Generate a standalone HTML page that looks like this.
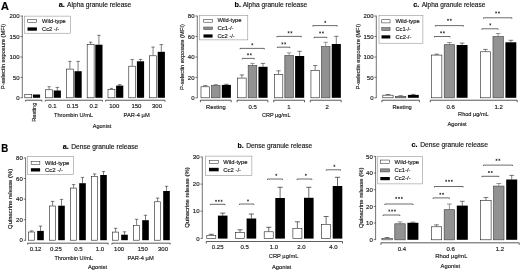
<!DOCTYPE html>
<html lang="en">
<head>
<meta charset="utf-8">
<title>Alpha and dense granule release</title>
<style>
html,body{margin:0;padding:0;background:#fff;}
body{width:520px;height:273px;overflow:hidden;font-family:"Liberation Sans",sans-serif;}
svg{display:block;font-family:"Liberation Sans",sans-serif;}
svg text{stroke:#1a1a1a;stroke-width:.16px;}
</style>
</head>
<body>
<svg width="520" height="273" viewBox="0 0 520 273">
<rect x="0" y="0" width="520" height="273" fill="#fff"/>
<g id="fig" filter="url(#soft)" fill="#1a1a1a">
<text x="1.00" y="9.80" font-size="10" font-weight="bold" textLength="7.90" lengthAdjust="spacingAndGlyphs" fill="#000">A</text>
<text x="1.20" y="151.80" font-size="10" font-weight="bold" textLength="7.00" lengthAdjust="spacingAndGlyphs" fill="#000">B</text>
<path d="M22.30 15.70L22.30 98.10" stroke="#1a1a1a" stroke-width="0.6" fill="none"/>
<path d="M20.50 16.00L22.30 16.00" stroke="#1a1a1a" stroke-width="0.6" fill="none"/>
<text x="19.50" y="18.15" font-size="6.0" text-anchor="end">200</text>
<path d="M20.50 36.50L22.30 36.50" stroke="#1a1a1a" stroke-width="0.6" fill="none"/>
<text x="19.50" y="38.65" font-size="6.0" text-anchor="end">150</text>
<path d="M20.50 57.00L22.30 57.00" stroke="#1a1a1a" stroke-width="0.6" fill="none"/>
<text x="19.50" y="59.15" font-size="6.0" text-anchor="end">100</text>
<path d="M20.50 77.40L22.30 77.40" stroke="#1a1a1a" stroke-width="0.6" fill="none"/>
<text x="19.50" y="79.55" font-size="6.0" text-anchor="end">50</text>
<path d="M20.50 97.80L22.30 97.80" stroke="#1a1a1a" stroke-width="0.6" fill="none"/>
<text x="19.50" y="99.95" font-size="6.0" text-anchor="end">0</text>
<text x="58.70" y="7.00" font-size="7.1" font-weight="bold" fill="#000" textLength="6.10" lengthAdjust="spacingAndGlyphs">a.</text>
<text x="67.10" y="7.00" font-size="6.4" textLength="64.20" lengthAdjust="spacingAndGlyphs">Alpha granule release</text>
<text x="4.60" y="56.50" font-size="6.1" text-anchor="middle" transform="rotate(-90 4.60 56.50)" textLength="65.50" lengthAdjust="spacingAndGlyphs">P-selectin exposure (MFI)</text>
<rect x="24.30" y="16.10" width="46.30" height="17.10" fill="#fff" stroke="#808080" stroke-width="0.5"/>
<rect x="27.75" y="19.55" width="8.90" height="3.05" fill="#fff" stroke="#1a1a1a" stroke-width="0.5"/>
<text x="42.00" y="22.85" font-size="5.9" textLength="23.80" lengthAdjust="spacingAndGlyphs">Wild-type</text>
<rect x="27.50" y="27.40" width="9.40" height="3.30" fill="#000"/>
<text x="42.00" y="30.95" font-size="5.9" textLength="17.30" lengthAdjust="spacingAndGlyphs">Cc2 -/-</text>
<rect x="24.79" y="94.59" width="6.92" height="3.21" fill="#fff" stroke="#1a1a1a" stroke-width="0.58"/>
<rect x="32.90" y="94.50" width="7.20" height="3.30" fill="#000"/>
<path d="M47.45 86.70H50.65M49.05 86.70V89.50" stroke="#1a1a1a" stroke-width="0.55" fill="none"/>
<path d="M55.55 87.40H59.05M57.30 87.40V90.50" stroke="#1a1a1a" stroke-width="0.55" fill="none"/>
<rect x="45.59" y="89.79" width="6.92" height="8.01" fill="#fff" stroke="#1a1a1a" stroke-width="0.58"/>
<rect x="53.70" y="90.50" width="7.20" height="7.30" fill="#000"/>
<path d="M68.25 61.40H71.45M69.85 61.40V68.80" stroke="#1a1a1a" stroke-width="0.55" fill="none"/>
<path d="M76.35 61.40H79.85M78.10 61.40V71.20" stroke="#1a1a1a" stroke-width="0.55" fill="none"/>
<rect x="66.39" y="69.09" width="6.92" height="28.71" fill="#fff" stroke="#1a1a1a" stroke-width="0.58"/>
<rect x="74.50" y="71.20" width="7.20" height="26.60" fill="#000"/>
<path d="M89.05 42.20H92.25M90.65 42.20V44.10" stroke="#1a1a1a" stroke-width="0.55" fill="none"/>
<path d="M97.15 35.30H100.65M98.90 35.30V44.70" stroke="#1a1a1a" stroke-width="0.55" fill="none"/>
<rect x="87.19" y="44.39" width="6.92" height="53.41" fill="#fff" stroke="#1a1a1a" stroke-width="0.58"/>
<rect x="95.30" y="44.70" width="7.20" height="53.10" fill="#000"/>
<path d="M109.85 88.40H113.05M111.45 88.40V89.10" stroke="#1a1a1a" stroke-width="0.55" fill="none"/>
<path d="M117.95 84.60H121.45M119.70 84.60V85.60" stroke="#1a1a1a" stroke-width="0.55" fill="none"/>
<rect x="107.99" y="89.39" width="6.92" height="8.41" fill="#fff" stroke="#1a1a1a" stroke-width="0.58"/>
<rect x="116.10" y="85.60" width="7.20" height="12.20" fill="#000"/>
<path d="M130.65 59.60H133.85M132.25 59.60V65.90" stroke="#1a1a1a" stroke-width="0.55" fill="none"/>
<path d="M138.75 59.40H142.25M140.50 59.40V61.30" stroke="#1a1a1a" stroke-width="0.55" fill="none"/>
<rect x="128.79" y="66.19" width="6.92" height="31.61" fill="#fff" stroke="#1a1a1a" stroke-width="0.58"/>
<rect x="136.90" y="61.30" width="7.20" height="36.50" fill="#000"/>
<path d="M151.45 47.10H154.65M153.05 47.10V55.50" stroke="#1a1a1a" stroke-width="0.55" fill="none"/>
<path d="M159.55 44.60H163.05M161.30 44.60V51.80" stroke="#1a1a1a" stroke-width="0.55" fill="none"/>
<rect x="149.59" y="55.79" width="6.92" height="42.01" fill="#fff" stroke="#1a1a1a" stroke-width="0.58"/>
<rect x="157.70" y="51.80" width="7.20" height="46.00" fill="#000"/>
<path d="M25.60 101.55V100.25H41.90V101.55" stroke="#1a1a1a" stroke-width="0.7" fill="none"/>
<path d="M45.30 101.55V100.25H102.50V101.55" stroke="#1a1a1a" stroke-width="0.7" fill="none"/>
<path d="M105.60 101.55V100.25H165.00V101.55" stroke="#1a1a1a" stroke-width="0.7" fill="none"/>
<text x="52.40" y="107.80" font-size="6.0" text-anchor="middle">0.1</text>
<text x="72.60" y="107.80" font-size="6.0" text-anchor="middle">0.15</text>
<text x="93.75" y="107.80" font-size="6.0" text-anchor="middle">0.2</text>
<text x="114.25" y="107.80" font-size="6.0" text-anchor="middle">100</text>
<text x="136.40" y="107.80" font-size="6.0" text-anchor="middle">150</text>
<text x="157.00" y="107.80" font-size="6.0" text-anchor="middle">300</text>
<text x="36.00" y="102.60" font-size="6.2" text-anchor="end" transform="rotate(-90 36.00 102.60)" textLength="19.20" lengthAdjust="spacingAndGlyphs">Resting</text>
<text x="54.00" y="116.50" font-size="6.0" textLength="39.00" lengthAdjust="spacingAndGlyphs">Thrombin U/mL</text>
<text x="123.50" y="116.50" font-size="6.0" textLength="26.20" lengthAdjust="spacingAndGlyphs">PAR-4 µM</text>
<text x="92.80" y="127.80" font-size="6.0" textLength="18.40" lengthAdjust="spacingAndGlyphs">Agonist</text>
<path d="M197.30 15.70L197.30 98.10" stroke="#1a1a1a" stroke-width="0.6" fill="none"/>
<path d="M195.50 16.00L197.30 16.00" stroke="#1a1a1a" stroke-width="0.6" fill="none"/>
<text x="194.50" y="18.15" font-size="6.0" text-anchor="end">80</text>
<path d="M195.50 36.50L197.30 36.50" stroke="#1a1a1a" stroke-width="0.6" fill="none"/>
<text x="194.50" y="38.65" font-size="6.0" text-anchor="end">60</text>
<path d="M195.50 57.00L197.30 57.00" stroke="#1a1a1a" stroke-width="0.6" fill="none"/>
<text x="194.50" y="59.15" font-size="6.0" text-anchor="end">40</text>
<path d="M195.50 77.40L197.30 77.40" stroke="#1a1a1a" stroke-width="0.6" fill="none"/>
<text x="194.50" y="79.55" font-size="6.0" text-anchor="end">20</text>
<path d="M195.50 97.80L197.30 97.80" stroke="#1a1a1a" stroke-width="0.6" fill="none"/>
<text x="194.50" y="99.95" font-size="6.0" text-anchor="end">0</text>
<text x="234.50" y="7.00" font-size="7.1" font-weight="bold" fill="#000" textLength="6.50" lengthAdjust="spacingAndGlyphs">b.</text>
<text x="242.70" y="7.00" font-size="6.4" textLength="64.60" lengthAdjust="spacingAndGlyphs">Alpha granule release</text>
<text x="183.70" y="57.10" font-size="6.1" text-anchor="middle" transform="rotate(-90 183.70 57.10)" textLength="65.80" lengthAdjust="spacingAndGlyphs">P-selectin exposure (MFI)</text>
<rect x="199.40" y="15.60" width="48.40" height="24.30" fill="#fff" stroke="#808080" stroke-width="0.5"/>
<rect x="203.75" y="19.25" width="8.60" height="2.95" fill="#fff" stroke="#1a1a1a" stroke-width="0.5"/>
<text x="217.40" y="22.45" font-size="5.9" textLength="24.20" lengthAdjust="spacingAndGlyphs">Wild-type</text>
<rect x="203.75" y="27.05" width="8.60" height="2.45" fill="#929292" stroke="#484848" stroke-width="0.60"/>
<text x="217.40" y="29.75" font-size="5.9" textLength="16.20" lengthAdjust="spacingAndGlyphs">Cc1-/-</text>
<rect x="203.50" y="34.40" width="9.10" height="3.20" fill="#000"/>
<text x="217.40" y="37.85" font-size="5.9" textLength="17.30" lengthAdjust="spacingAndGlyphs">Cc2 -/-</text>
<path d="M203.10 85.60H207.40M205.25 85.60V86.50" stroke="#1a1a1a" stroke-width="0.55" fill="none"/>
<rect x="200.99" y="86.79" width="8.52" height="11.01" fill="#fff" stroke="#1a1a1a" stroke-width="0.58"/>
<path d="M213.65 84.60H217.95M215.80 84.60V85.30" stroke="#444" stroke-width="0.55" fill="none"/>
<rect x="211.54" y="85.59" width="8.52" height="12.21" fill="#929292" stroke="#484848" stroke-width="0.68"/>
<path d="M224.20 84.30H228.50M226.35 84.30V84.90" stroke="#1a1a1a" stroke-width="0.55" fill="none"/>
<rect x="221.80" y="84.90" width="9.10" height="12.90" fill="#000"/>
<path d="M200.40 102.25V100.25H231.20V102.25" stroke="#1a1a1a" stroke-width="0.7" fill="none"/>
<path d="M239.75 74.90H244.05M241.90 74.90V77.80" stroke="#1a1a1a" stroke-width="0.55" fill="none"/>
<rect x="237.64" y="78.09" width="8.52" height="19.71" fill="#fff" stroke="#1a1a1a" stroke-width="0.58"/>
<path d="M250.30 63.40H254.60M252.45 63.40V65.30" stroke="#444" stroke-width="0.55" fill="none"/>
<rect x="248.19" y="65.59" width="8.52" height="32.21" fill="#929292" stroke="#484848" stroke-width="0.68"/>
<path d="M260.85 63.40H265.15M263.00 63.40V66.80" stroke="#1a1a1a" stroke-width="0.55" fill="none"/>
<rect x="258.45" y="66.80" width="9.10" height="31.00" fill="#000"/>
<path d="M237.05 102.25V100.25H267.85V102.25" stroke="#1a1a1a" stroke-width="0.7" fill="none"/>
<path d="M276.40 70.80H280.70M278.55 70.80V74.30" stroke="#1a1a1a" stroke-width="0.55" fill="none"/>
<rect x="274.29" y="74.59" width="8.52" height="23.21" fill="#fff" stroke="#1a1a1a" stroke-width="0.58"/>
<path d="M286.95 52.90H291.25M289.10 52.90V55.30" stroke="#444" stroke-width="0.55" fill="none"/>
<rect x="284.84" y="55.59" width="8.52" height="42.21" fill="#929292" stroke="#484848" stroke-width="0.68"/>
<path d="M297.50 51.30H301.80M299.65 51.30V56.00" stroke="#1a1a1a" stroke-width="0.55" fill="none"/>
<rect x="295.10" y="56.00" width="9.10" height="41.80" fill="#000"/>
<path d="M273.70 102.25V100.25H304.50V102.25" stroke="#1a1a1a" stroke-width="0.7" fill="none"/>
<path d="M313.05 65.50H317.35M315.20 65.50V70.30" stroke="#1a1a1a" stroke-width="0.55" fill="none"/>
<rect x="310.94" y="70.59" width="8.52" height="27.21" fill="#fff" stroke="#1a1a1a" stroke-width="0.58"/>
<path d="M323.60 42.30H327.90M325.75 42.30V46.30" stroke="#444" stroke-width="0.55" fill="none"/>
<rect x="321.49" y="46.59" width="8.52" height="51.21" fill="#929292" stroke="#484848" stroke-width="0.68"/>
<path d="M334.15 36.30H338.45M336.30 36.30V44.00" stroke="#1a1a1a" stroke-width="0.55" fill="none"/>
<rect x="331.75" y="44.00" width="9.10" height="53.80" fill="#000"/>
<path d="M310.35 102.25V100.25H341.15V102.25" stroke="#1a1a1a" stroke-width="0.7" fill="none"/>
<path d="M240.00 49.30V48.40H264.40V49.30" stroke="#1a1a1a" stroke-width="0.65" fill="none"/>
<path d="M252.30 43.30V45.30M251.43 43.80L253.17 44.80M251.43 44.80L253.17 43.80" stroke="#1a1a1a" stroke-width="0.6" fill="none"/>
<path d="M242.30 59.30V58.40H254.40V59.30" stroke="#1a1a1a" stroke-width="0.65" fill="none"/>
<path d="M248.00 53.30V55.30M247.13 53.80L248.87 54.80M247.13 54.80L248.87 53.80" stroke="#1a1a1a" stroke-width="0.6" fill="none"/>
<path d="M250.80 53.30V55.30M249.93 53.80L251.67 54.80M249.93 54.80L251.67 53.80" stroke="#1a1a1a" stroke-width="0.6" fill="none"/>
<path d="M276.90 37.30V36.40H301.30V37.30" stroke="#1a1a1a" stroke-width="0.65" fill="none"/>
<path d="M288.60 31.30V33.30M287.73 31.80L289.47 32.80M287.73 32.80L289.47 31.80" stroke="#1a1a1a" stroke-width="0.6" fill="none"/>
<path d="M291.40 31.30V33.30M290.53 31.80L292.27 32.80M290.53 32.80L292.27 31.80" stroke="#1a1a1a" stroke-width="0.6" fill="none"/>
<path d="M277.30 48.10V47.20H289.80V48.10" stroke="#1a1a1a" stroke-width="0.65" fill="none"/>
<path d="M282.40 42.40V44.40M281.53 42.90L283.27 43.90M281.53 43.90L283.27 42.90" stroke="#1a1a1a" stroke-width="0.6" fill="none"/>
<path d="M285.20 42.40V44.40M284.33 42.90L286.07 43.90M284.33 43.90L286.07 42.90" stroke="#1a1a1a" stroke-width="0.6" fill="none"/>
<path d="M312.80 26.50V25.60H337.30V26.50" stroke="#1a1a1a" stroke-width="0.65" fill="none"/>
<path d="M325.30 20.90V22.90M324.43 21.40L326.17 22.40M324.43 22.40L326.17 21.40" stroke="#1a1a1a" stroke-width="0.6" fill="none"/>
<path d="M314.00 38.20V37.30H326.90V38.20" stroke="#1a1a1a" stroke-width="0.65" fill="none"/>
<path d="M320.10 31.50V33.50M319.23 32.00L320.97 33.00M319.23 33.00L320.97 32.00" stroke="#1a1a1a" stroke-width="0.6" fill="none"/>
<path d="M322.90 31.50V33.50M322.03 32.00L323.77 33.00M322.03 33.00L323.77 32.00" stroke="#1a1a1a" stroke-width="0.6" fill="none"/>
<text x="215.90" y="109.00" font-size="6.2" text-anchor="middle" textLength="19.60" lengthAdjust="spacingAndGlyphs">Resting</text>
<text x="252.70" y="108.80" font-size="6.0" text-anchor="middle">0.5</text>
<text x="289.00" y="108.80" font-size="6.0" text-anchor="middle">1</text>
<text x="327.20" y="108.80" font-size="6.0" text-anchor="middle">2</text>
<text x="261.90" y="116.50" font-size="6.0" textLength="28.60" lengthAdjust="spacingAndGlyphs">CRP µg/mL</text>
<path d="M376.30 15.70L376.30 98.10" stroke="#1a1a1a" stroke-width="0.6" fill="none"/>
<path d="M374.50 16.00L376.30 16.00" stroke="#1a1a1a" stroke-width="0.6" fill="none"/>
<text x="373.50" y="18.15" font-size="6.0" text-anchor="end">200</text>
<path d="M374.50 36.50L376.30 36.50" stroke="#1a1a1a" stroke-width="0.6" fill="none"/>
<text x="373.50" y="38.65" font-size="6.0" text-anchor="end">150</text>
<path d="M374.50 57.00L376.30 57.00" stroke="#1a1a1a" stroke-width="0.6" fill="none"/>
<text x="373.50" y="59.15" font-size="6.0" text-anchor="end">100</text>
<path d="M374.50 77.40L376.30 77.40" stroke="#1a1a1a" stroke-width="0.6" fill="none"/>
<text x="373.50" y="79.55" font-size="6.0" text-anchor="end">50</text>
<path d="M374.50 97.80L376.30 97.80" stroke="#1a1a1a" stroke-width="0.6" fill="none"/>
<text x="373.50" y="99.95" font-size="6.0" text-anchor="end">0</text>
<text x="413.30" y="7.00" font-size="7.1" font-weight="bold" fill="#000" textLength="6.00" lengthAdjust="spacingAndGlyphs">c.</text>
<text x="421.70" y="7.00" font-size="6.4" textLength="63.70" lengthAdjust="spacingAndGlyphs">Alpha granule release</text>
<text x="359.70" y="56.70" font-size="6.1" text-anchor="middle" transform="rotate(-90 359.70 56.70)" textLength="65.60" lengthAdjust="spacingAndGlyphs">P-selectin exposure (MFI)</text>
<rect x="379.00" y="15.60" width="43.90" height="27.60" fill="#fff" stroke="#808080" stroke-width="0.5"/>
<rect x="381.75" y="19.75" width="8.30" height="3.15" fill="#fff" stroke="#1a1a1a" stroke-width="0.5"/>
<text x="395.50" y="23.15" font-size="5.9" textLength="24.20" lengthAdjust="spacingAndGlyphs">Wild-type</text>
<rect x="381.75" y="27.65" width="8.30" height="2.75" fill="#929292" stroke="#484848" stroke-width="0.60"/>
<text x="395.50" y="30.65" font-size="5.9" textLength="15.50" lengthAdjust="spacingAndGlyphs">Cc1-/-</text>
<rect x="381.50" y="35.30" width="8.80" height="3.20" fill="#000"/>
<text x="395.50" y="38.75" font-size="5.9" textLength="15.90" lengthAdjust="spacingAndGlyphs">Cc2-/-</text>
<path d="M385.65 94.50H390.25M387.95 94.50V94.90" stroke="#1a1a1a" stroke-width="0.55" fill="none"/>
<rect x="382.79" y="95.19" width="10.32" height="2.61" fill="#fff" stroke="#1a1a1a" stroke-width="0.58"/>
<path d="M398.35 95.50H402.95M400.65 95.50V96.10" stroke="#444" stroke-width="0.55" fill="none"/>
<rect x="395.49" y="96.39" width="10.32" height="1.41" fill="#929292" stroke="#484848" stroke-width="0.68"/>
<path d="M411.05 94.40H415.65M413.35 94.40V94.90" stroke="#1a1a1a" stroke-width="0.55" fill="none"/>
<rect x="407.90" y="94.90" width="10.90" height="2.90" fill="#000"/>
<path d="M434.40 54.20H439.00M436.70 54.20V54.80" stroke="#1a1a1a" stroke-width="0.55" fill="none"/>
<rect x="431.54" y="55.09" width="10.32" height="42.71" fill="#fff" stroke="#1a1a1a" stroke-width="0.58"/>
<path d="M447.10 42.50H451.70M449.40 42.50V44.40" stroke="#444" stroke-width="0.55" fill="none"/>
<rect x="444.24" y="44.69" width="10.32" height="53.11" fill="#929292" stroke="#484848" stroke-width="0.68"/>
<path d="M459.80 43.10H464.40M462.10 43.10V45.00" stroke="#1a1a1a" stroke-width="0.55" fill="none"/>
<rect x="456.65" y="45.00" width="10.90" height="52.80" fill="#000"/>
<path d="M483.15 49.40H487.75M485.45 49.40V51.50" stroke="#1a1a1a" stroke-width="0.55" fill="none"/>
<rect x="480.29" y="51.79" width="10.32" height="46.01" fill="#fff" stroke="#1a1a1a" stroke-width="0.58"/>
<path d="M495.85 33.50H500.45M498.15 33.50V36.30" stroke="#444" stroke-width="0.55" fill="none"/>
<rect x="492.99" y="36.59" width="10.32" height="61.21" fill="#929292" stroke="#484848" stroke-width="0.68"/>
<path d="M508.55 40.30H513.15M510.85 40.30V42.30" stroke="#1a1a1a" stroke-width="0.55" fill="none"/>
<rect x="505.40" y="42.30" width="10.90" height="55.50" fill="#000"/>
<path d="M381.90 102.25V100.25H419.40V102.25" stroke="#1a1a1a" stroke-width="0.7" fill="none"/>
<path d="M430.30 102.25V100.25H517.20V102.25" stroke="#1a1a1a" stroke-width="0.7" fill="none"/>
<path d="M435.30 26.50V25.60H463.50V26.50" stroke="#1a1a1a" stroke-width="0.65" fill="none"/>
<path d="M448.00 18.80V20.80M447.13 19.30L448.87 20.30M447.13 20.30L448.87 19.30" stroke="#1a1a1a" stroke-width="0.6" fill="none"/>
<path d="M450.80 18.80V20.80M449.93 19.30L451.67 20.30M449.93 20.30L451.67 19.30" stroke="#1a1a1a" stroke-width="0.6" fill="none"/>
<path d="M434.40 37.40V36.50H450.00V37.40" stroke="#1a1a1a" stroke-width="0.65" fill="none"/>
<path d="M441.10 31.30V33.30M440.23 31.80L441.97 32.80M440.23 32.80L441.97 31.80" stroke="#1a1a1a" stroke-width="0.6" fill="none"/>
<path d="M443.90 31.30V33.30M443.03 31.80L444.77 32.80M443.03 32.80L444.77 31.80" stroke="#1a1a1a" stroke-width="0.6" fill="none"/>
<path d="M483.50 18.70V17.80H511.90V18.70" stroke="#1a1a1a" stroke-width="0.65" fill="none"/>
<path d="M496.10 11.50V13.50M495.23 12.00L496.97 13.00M495.23 13.00L496.97 12.00" stroke="#1a1a1a" stroke-width="0.6" fill="none"/>
<path d="M498.90 11.50V13.50M498.03 12.00L499.77 13.00M498.03 13.00L499.77 12.00" stroke="#1a1a1a" stroke-width="0.6" fill="none"/>
<path d="M481.90 29.70V28.80H498.10V29.70" stroke="#1a1a1a" stroke-width="0.65" fill="none"/>
<path d="M490.30 23.40V25.40M489.43 23.90L491.17 24.90M489.43 24.90L491.17 23.90" stroke="#1a1a1a" stroke-width="0.6" fill="none"/>
<text x="402.10" y="108.80" font-size="6.2" text-anchor="middle" textLength="19.40" lengthAdjust="spacingAndGlyphs">Resting</text>
<text x="450.60" y="108.80" font-size="6.0" text-anchor="middle">0.6</text>
<text x="498.70" y="108.80" font-size="6.0" text-anchor="middle">1.2</text>
<text x="458.10" y="115.70" font-size="6.0" textLength="30.60" lengthAdjust="spacingAndGlyphs">Rhod µg/mL</text>
<text x="447.50" y="125.70" font-size="6.0" textLength="19.20" lengthAdjust="spacingAndGlyphs">Agonist</text>
<path d="M25.60 157.60L25.60 240.60" stroke="#1a1a1a" stroke-width="0.6" fill="none"/>
<path d="M23.80 157.90L25.60 157.90" stroke="#1a1a1a" stroke-width="0.6" fill="none"/>
<text x="22.80" y="160.05" font-size="6.0" text-anchor="end">80</text>
<path d="M23.80 178.50L25.60 178.50" stroke="#1a1a1a" stroke-width="0.6" fill="none"/>
<text x="22.80" y="180.65" font-size="6.0" text-anchor="end">60</text>
<path d="M23.80 199.10L25.60 199.10" stroke="#1a1a1a" stroke-width="0.6" fill="none"/>
<text x="22.80" y="201.25" font-size="6.0" text-anchor="end">40</text>
<path d="M23.80 219.70L25.60 219.70" stroke="#1a1a1a" stroke-width="0.6" fill="none"/>
<text x="22.80" y="221.85" font-size="6.0" text-anchor="end">20</text>
<path d="M23.80 240.30L25.60 240.30" stroke="#1a1a1a" stroke-width="0.6" fill="none"/>
<text x="22.80" y="242.45" font-size="6.0" text-anchor="end">0</text>
<text x="62.70" y="148.80" font-size="7.1" font-weight="bold" fill="#000" textLength="6.00" lengthAdjust="spacingAndGlyphs">a.</text>
<text x="71.20" y="148.80" font-size="6.4" textLength="67.10" lengthAdjust="spacingAndGlyphs">Dense granule release</text>
<text x="11.80" y="198.90" font-size="6.1" text-anchor="middle" transform="rotate(-90 11.80 198.90)" textLength="60.00" lengthAdjust="spacingAndGlyphs">Quinacrine release (%)</text>
<rect x="27.30" y="156.30" width="46.20" height="18.10" fill="#fff" stroke="#808080" stroke-width="0.5"/>
<rect x="31.15" y="161.25" width="8.70" height="3.15" fill="#fff" stroke="#1a1a1a" stroke-width="0.5"/>
<text x="44.90" y="164.65" font-size="5.9" textLength="24.40" lengthAdjust="spacingAndGlyphs">Wild-type</text>
<rect x="30.90" y="168.20" width="9.20" height="3.30" fill="#000"/>
<text x="44.90" y="171.75" font-size="5.9" textLength="18.00" lengthAdjust="spacingAndGlyphs">Cc2 -/-</text>
<path d="M29.90 230.90H33.30M31.60 230.90V231.70" stroke="#1a1a1a" stroke-width="0.55" fill="none"/>
<path d="M38.80 226.10H42.20M40.50 226.10V230.90" stroke="#1a1a1a" stroke-width="0.55" fill="none"/>
<rect x="28.59" y="231.99" width="6.02" height="8.21" fill="#fff" stroke="#1a1a1a" stroke-width="0.58"/>
<rect x="37.20" y="230.90" width="6.60" height="9.30" fill="#000"/>
<path d="M50.90 201.40H54.30M52.60 201.40V205.70" stroke="#1a1a1a" stroke-width="0.55" fill="none"/>
<path d="M59.80 199.40H63.20M61.50 199.40V205.70" stroke="#1a1a1a" stroke-width="0.55" fill="none"/>
<rect x="49.59" y="205.99" width="6.02" height="34.21" fill="#fff" stroke="#1a1a1a" stroke-width="0.58"/>
<rect x="58.20" y="205.70" width="6.60" height="34.50" fill="#000"/>
<path d="M71.90 184.60H75.30M73.60 184.60V187.80" stroke="#1a1a1a" stroke-width="0.55" fill="none"/>
<path d="M80.80 177.40H84.20M82.50 177.40V183.20" stroke="#1a1a1a" stroke-width="0.55" fill="none"/>
<rect x="70.59" y="188.09" width="6.02" height="52.11" fill="#fff" stroke="#1a1a1a" stroke-width="0.58"/>
<rect x="79.20" y="183.20" width="6.60" height="57.00" fill="#000"/>
<path d="M92.90 173.90H96.30M94.60 173.90V176.20" stroke="#1a1a1a" stroke-width="0.55" fill="none"/>
<path d="M101.80 171.60H105.20M103.50 171.60V175.00" stroke="#1a1a1a" stroke-width="0.55" fill="none"/>
<rect x="91.59" y="176.49" width="6.02" height="63.71" fill="#fff" stroke="#1a1a1a" stroke-width="0.58"/>
<rect x="100.20" y="175.00" width="6.60" height="65.20" fill="#000"/>
<path d="M113.90 228.30H117.30M115.60 228.30V231.80" stroke="#1a1a1a" stroke-width="0.55" fill="none"/>
<path d="M122.80 231.80H126.20M124.50 231.80V234.70" stroke="#1a1a1a" stroke-width="0.55" fill="none"/>
<rect x="112.59" y="232.09" width="6.02" height="8.11" fill="#fff" stroke="#1a1a1a" stroke-width="0.58"/>
<rect x="121.20" y="234.70" width="6.60" height="5.50" fill="#000"/>
<path d="M134.90 219.30H138.30M136.60 219.30V225.10" stroke="#1a1a1a" stroke-width="0.55" fill="none"/>
<path d="M143.80 215.30H147.20M145.50 215.30V220.20" stroke="#1a1a1a" stroke-width="0.55" fill="none"/>
<rect x="133.59" y="225.39" width="6.02" height="14.81" fill="#fff" stroke="#1a1a1a" stroke-width="0.58"/>
<rect x="142.20" y="220.20" width="6.60" height="20.00" fill="#000"/>
<path d="M155.90 198.10H159.30M157.60 198.10V201.50" stroke="#1a1a1a" stroke-width="0.55" fill="none"/>
<path d="M164.80 186.30H168.20M166.50 186.30V191.00" stroke="#1a1a1a" stroke-width="0.55" fill="none"/>
<rect x="154.59" y="201.79" width="6.02" height="38.41" fill="#fff" stroke="#1a1a1a" stroke-width="0.58"/>
<rect x="163.20" y="191.00" width="6.60" height="49.20" fill="#000"/>
<path d="M27.60 244.50V243.20H108.20V244.50" stroke="#1a1a1a" stroke-width="0.7" fill="none"/>
<path d="M111.90 244.50V243.20H170.20V244.50" stroke="#1a1a1a" stroke-width="0.7" fill="none"/>
<text x="35.50" y="251.00" font-size="6.0" text-anchor="middle">0.12</text>
<text x="55.90" y="251.00" font-size="6.0" text-anchor="middle">0.25</text>
<text x="78.50" y="251.00" font-size="6.0" text-anchor="middle">0.5</text>
<text x="100.00" y="251.00" font-size="6.0" text-anchor="middle">1.0</text>
<text x="119.10" y="251.00" font-size="6.0" text-anchor="middle">100</text>
<text x="142.80" y="251.00" font-size="6.0" text-anchor="middle">150</text>
<text x="163.00" y="251.00" font-size="6.0" text-anchor="middle">300</text>
<text x="54.40" y="260.00" font-size="6.0" textLength="38.60" lengthAdjust="spacingAndGlyphs">Thrombin U/mL</text>
<text x="127.50" y="260.00" font-size="6.0" textLength="26.20" lengthAdjust="spacingAndGlyphs">PAR-4 µM</text>
<text x="88.00" y="268.80" font-size="6.0" textLength="19.00" lengthAdjust="spacingAndGlyphs">Agonist</text>
<path d="M202.30 156.70L202.30 238.70" stroke="#1a1a1a" stroke-width="0.6" fill="none"/>
<path d="M200.50 157.00L202.30 157.00" stroke="#1a1a1a" stroke-width="0.6" fill="none"/>
<text x="199.50" y="159.15" font-size="6.0" text-anchor="end">30</text>
<path d="M200.50 184.10L202.30 184.10" stroke="#1a1a1a" stroke-width="0.6" fill="none"/>
<text x="199.50" y="186.25" font-size="6.0" text-anchor="end">20</text>
<path d="M200.50 211.20L202.30 211.20" stroke="#1a1a1a" stroke-width="0.6" fill="none"/>
<text x="199.50" y="213.35" font-size="6.0" text-anchor="end">10</text>
<path d="M200.50 238.40L202.30 238.40" stroke="#1a1a1a" stroke-width="0.6" fill="none"/>
<text x="199.50" y="240.55" font-size="6.0" text-anchor="end">0</text>
<text x="237.40" y="148.30" font-size="7.1" font-weight="bold" fill="#000" textLength="6.20" lengthAdjust="spacingAndGlyphs">b.</text>
<text x="246.20" y="148.30" font-size="6.4" textLength="66.10" lengthAdjust="spacingAndGlyphs">Dense granule release</text>
<text x="188.80" y="197.50" font-size="6.1" text-anchor="middle" transform="rotate(-90 188.80 197.50)" textLength="60.50" lengthAdjust="spacingAndGlyphs">Quinacrine release (%)</text>
<rect x="205.40" y="156.10" width="46.50" height="19.20" fill="#fff" stroke="#808080" stroke-width="0.5"/>
<rect x="209.25" y="160.25" width="9.20" height="3.25" fill="#fff" stroke="#1a1a1a" stroke-width="0.5"/>
<text x="223.20" y="163.75" font-size="5.9" textLength="24.20" lengthAdjust="spacingAndGlyphs">Wild-type</text>
<rect x="209.00" y="167.80" width="9.70" height="3.50" fill="#000"/>
<text x="223.20" y="171.55" font-size="5.9" textLength="17.90" lengthAdjust="spacingAndGlyphs">Cc2 -/-</text>
<path d="M208.80 234.30H213.80M211.30 234.30V235.00" stroke="#1a1a1a" stroke-width="0.65" fill="none"/>
<path d="M220.10 213.10H225.30M222.70 213.10V215.60" stroke="#1a1a1a" stroke-width="0.65" fill="none"/>
<rect x="206.79" y="235.29" width="9.02" height="3.31" fill="#fff" stroke="#1a1a1a" stroke-width="0.58"/>
<rect x="217.90" y="215.60" width="9.60" height="23.00" fill="#000"/>
<path d="M237.50 229.80H242.50M240.00 229.80V232.30" stroke="#1a1a1a" stroke-width="0.65" fill="none"/>
<path d="M248.80 214.00H254.00M251.40 214.00V218.50" stroke="#1a1a1a" stroke-width="0.65" fill="none"/>
<rect x="235.49" y="232.59" width="9.02" height="6.01" fill="#fff" stroke="#1a1a1a" stroke-width="0.58"/>
<rect x="246.60" y="218.50" width="9.60" height="20.10" fill="#000"/>
<path d="M266.20 227.30H271.20M268.70 227.30V231.50" stroke="#1a1a1a" stroke-width="0.65" fill="none"/>
<path d="M277.50 187.30H282.70M280.10 187.30V198.00" stroke="#1a1a1a" stroke-width="0.65" fill="none"/>
<rect x="264.19" y="231.79" width="9.02" height="6.81" fill="#fff" stroke="#1a1a1a" stroke-width="0.58"/>
<rect x="275.30" y="198.00" width="9.60" height="40.60" fill="#000"/>
<path d="M294.90 221.80H299.90M297.40 221.80V228.00" stroke="#1a1a1a" stroke-width="0.65" fill="none"/>
<path d="M306.20 187.30H311.40M308.80 187.30V197.80" stroke="#1a1a1a" stroke-width="0.65" fill="none"/>
<rect x="292.89" y="228.29" width="9.02" height="10.31" fill="#fff" stroke="#1a1a1a" stroke-width="0.58"/>
<rect x="304.00" y="197.80" width="9.60" height="40.80" fill="#000"/>
<path d="M323.60 216.50H328.60M326.10 216.50V224.00" stroke="#1a1a1a" stroke-width="0.65" fill="none"/>
<path d="M334.90 177.30H340.10M337.50 177.30V186.00" stroke="#1a1a1a" stroke-width="0.65" fill="none"/>
<rect x="321.59" y="224.29" width="9.02" height="14.31" fill="#fff" stroke="#1a1a1a" stroke-width="0.58"/>
<rect x="332.70" y="186.00" width="9.60" height="52.60" fill="#000"/>
<path d="M206.30 243.50V241.50H342.50V243.50" stroke="#1a1a1a" stroke-width="0.7" fill="none"/>
<path d="M210.30 205.20V204.30H225.00V205.20" stroke="#1a1a1a" stroke-width="0.65" fill="none"/>
<path d="M216.00 199.80V201.80M215.13 200.30L216.87 201.30M215.13 201.30L216.87 200.30" stroke="#1a1a1a" stroke-width="0.6" fill="none"/>
<path d="M218.80 199.80V201.80M217.93 200.30L219.67 201.30M217.93 201.30L219.67 200.30" stroke="#1a1a1a" stroke-width="0.6" fill="none"/>
<path d="M221.60 199.80V201.80M220.73 200.30L222.47 201.30M220.73 201.30L222.47 200.30" stroke="#1a1a1a" stroke-width="0.6" fill="none"/>
<path d="M239.50 204.90V204.00H253.80V204.90" stroke="#1a1a1a" stroke-width="0.65" fill="none"/>
<path d="M248.00 199.50V201.50M247.13 200.00L248.87 201.00M247.13 201.00L248.87 200.00" stroke="#1a1a1a" stroke-width="0.6" fill="none"/>
<path d="M267.50 179.90V179.00H282.50V179.90" stroke="#1a1a1a" stroke-width="0.65" fill="none"/>
<path d="M276.30 173.80V175.80M275.43 174.30L277.17 175.30M275.43 175.30L277.17 174.30" stroke="#1a1a1a" stroke-width="0.6" fill="none"/>
<path d="M297.00 179.90V179.00H311.80V179.90" stroke="#1a1a1a" stroke-width="0.65" fill="none"/>
<path d="M305.80 173.80V175.80M304.93 174.30L306.67 175.30M304.93 175.30L306.67 174.30" stroke="#1a1a1a" stroke-width="0.6" fill="none"/>
<path d="M326.30 170.70V169.80H340.60V170.70" stroke="#1a1a1a" stroke-width="0.65" fill="none"/>
<path d="M334.40 164.80V166.80M333.53 165.30L335.27 166.30M333.53 166.30L335.27 165.30" stroke="#1a1a1a" stroke-width="0.6" fill="none"/>
<text x="217.70" y="248.80" font-size="6.0" text-anchor="middle">0.25</text>
<text x="244.60" y="248.80" font-size="6.0" text-anchor="middle">0.5</text>
<text x="274.00" y="248.80" font-size="6.0" text-anchor="middle">1.0</text>
<text x="301.50" y="248.80" font-size="6.0" text-anchor="middle">2.0</text>
<text x="333.50" y="248.80" font-size="6.0" text-anchor="middle">4.0</text>
<text x="268.80" y="258.30" font-size="6.0" textLength="29.60" lengthAdjust="spacingAndGlyphs">CRP µg/mL</text>
<text x="272.00" y="268.80" font-size="6.0" textLength="19.20" lengthAdjust="spacingAndGlyphs">Agonist</text>
<path d="M375.60 156.10L375.60 240.00" stroke="#1a1a1a" stroke-width="0.6" fill="none"/>
<path d="M373.80 156.40L375.60 156.40" stroke="#1a1a1a" stroke-width="0.6" fill="none"/>
<text x="372.80" y="158.55" font-size="6.0" text-anchor="end">50</text>
<path d="M373.80 173.00L375.60 173.00" stroke="#1a1a1a" stroke-width="0.6" fill="none"/>
<text x="372.80" y="175.15" font-size="6.0" text-anchor="end">40</text>
<path d="M373.80 189.70L375.60 189.70" stroke="#1a1a1a" stroke-width="0.6" fill="none"/>
<text x="372.80" y="191.85" font-size="6.0" text-anchor="end">30</text>
<path d="M373.80 206.40L375.60 206.40" stroke="#1a1a1a" stroke-width="0.6" fill="none"/>
<text x="372.80" y="208.55" font-size="6.0" text-anchor="end">20</text>
<path d="M373.80 223.00L375.60 223.00" stroke="#1a1a1a" stroke-width="0.6" fill="none"/>
<text x="372.80" y="225.15" font-size="6.0" text-anchor="end">10</text>
<path d="M373.80 239.70L375.60 239.70" stroke="#1a1a1a" stroke-width="0.6" fill="none"/>
<text x="372.80" y="241.85" font-size="6.0" text-anchor="end">0</text>
<text x="411.60" y="147.45" font-size="7.1" font-weight="bold" fill="#000" textLength="6.00" lengthAdjust="spacingAndGlyphs">c.</text>
<text x="420.20" y="147.45" font-size="6.4" textLength="67.70" lengthAdjust="spacingAndGlyphs">Dense granule release</text>
<text x="362.80" y="197.80" font-size="6.1" text-anchor="middle" transform="rotate(-90 362.80 197.80)" textLength="60.40" lengthAdjust="spacingAndGlyphs">Quinacrine release (%)</text>
<rect x="377.80" y="156.40" width="44.90" height="27.50" fill="#fff" stroke="#808080" stroke-width="0.5"/>
<rect x="380.55" y="160.05" width="9.00" height="3.25" fill="#fff" stroke="#1a1a1a" stroke-width="0.5"/>
<text x="394.60" y="163.55" font-size="5.9" textLength="24.50" lengthAdjust="spacingAndGlyphs">Wild-type</text>
<rect x="380.55" y="168.85" width="9.00" height="3.05" fill="#929292" stroke="#484848" stroke-width="0.60"/>
<text x="394.60" y="172.15" font-size="5.9" textLength="15.90" lengthAdjust="spacingAndGlyphs">Cc1-/-</text>
<rect x="380.30" y="177.00" width="9.50" height="3.20" fill="#000"/>
<text x="394.60" y="180.45" font-size="5.9" textLength="16.10" lengthAdjust="spacingAndGlyphs">Cc2-/-</text>
<path d="M384.70 237.50H389.50M387.10 237.50V238.30" stroke="#1a1a1a" stroke-width="0.55" fill="none"/>
<rect x="381.89" y="238.59" width="10.42" height="1.21" fill="#fff" stroke="#1a1a1a" stroke-width="0.58"/>
<path d="M397.60 221.90H402.40M400.00 221.90V223.50" stroke="#444" stroke-width="0.55" fill="none"/>
<rect x="394.79" y="223.79" width="10.42" height="16.01" fill="#929292" stroke="#484848" stroke-width="0.68"/>
<path d="M410.50 222.20H415.30M412.90 222.20V222.80" stroke="#1a1a1a" stroke-width="0.55" fill="none"/>
<rect x="407.40" y="222.80" width="11.00" height="17.00" fill="#000"/>
<path d="M434.10 224.80H438.90M436.50 224.80V226.50" stroke="#1a1a1a" stroke-width="0.55" fill="none"/>
<rect x="431.29" y="226.79" width="10.42" height="13.01" fill="#fff" stroke="#1a1a1a" stroke-width="0.58"/>
<path d="M447.00 204.00H451.80M449.40 204.00V209.40" stroke="#444" stroke-width="0.55" fill="none"/>
<rect x="444.19" y="209.69" width="10.42" height="30.11" fill="#929292" stroke="#484848" stroke-width="0.68"/>
<path d="M459.90 201.30H464.70M462.30 201.30V205.60" stroke="#1a1a1a" stroke-width="0.55" fill="none"/>
<rect x="456.80" y="205.60" width="11.00" height="34.20" fill="#000"/>
<path d="M483.50 197.50H488.30M485.90 197.50V200.40" stroke="#1a1a1a" stroke-width="0.55" fill="none"/>
<rect x="480.69" y="200.69" width="10.42" height="39.11" fill="#fff" stroke="#1a1a1a" stroke-width="0.58"/>
<path d="M496.40 183.50H501.20M498.80 183.50V185.80" stroke="#444" stroke-width="0.55" fill="none"/>
<rect x="493.59" y="186.09" width="10.42" height="53.71" fill="#929292" stroke="#484848" stroke-width="0.68"/>
<path d="M509.30 175.40H514.10M511.70 175.40V179.50" stroke="#1a1a1a" stroke-width="0.55" fill="none"/>
<rect x="506.20" y="179.50" width="11.00" height="60.30" fill="#000"/>
<path d="M380.90 244.80V242.80H519.20V244.80" stroke="#1a1a1a" stroke-width="0.7" fill="none"/>
<path d="M384.80 204.90V204.00H413.10V204.90" stroke="#1a1a1a" stroke-width="0.65" fill="none"/>
<path d="M396.20 196.90V198.90M395.33 197.40L397.07 198.40M395.33 198.40L397.07 197.40" stroke="#1a1a1a" stroke-width="0.6" fill="none"/>
<path d="M399.00 196.90V198.90M398.13 197.40L399.87 198.40M398.13 198.40L399.87 197.40" stroke="#1a1a1a" stroke-width="0.6" fill="none"/>
<path d="M401.80 196.90V198.90M400.93 197.40L402.67 198.40M400.93 198.40L402.67 197.40" stroke="#1a1a1a" stroke-width="0.6" fill="none"/>
<path d="M383.10 215.90V215.00H399.80V215.90" stroke="#1a1a1a" stroke-width="0.65" fill="none"/>
<path d="M389.30 209.60V211.60M388.43 210.10L390.17 211.10M388.43 211.10L390.17 210.10" stroke="#1a1a1a" stroke-width="0.6" fill="none"/>
<path d="M392.10 209.60V211.60M391.23 210.10L392.97 211.10M391.23 211.10L392.97 210.10" stroke="#1a1a1a" stroke-width="0.6" fill="none"/>
<path d="M394.90 209.60V211.60M394.03 210.10L395.77 211.10M394.03 211.10L395.77 210.10" stroke="#1a1a1a" stroke-width="0.6" fill="none"/>
<path d="M434.40 187.40V186.50H463.10V187.40" stroke="#1a1a1a" stroke-width="0.65" fill="none"/>
<path d="M446.20 179.80V181.80M445.33 180.30L447.07 181.30M445.33 181.30L447.07 180.30" stroke="#1a1a1a" stroke-width="0.6" fill="none"/>
<path d="M449.00 179.80V181.80M448.13 180.30L449.87 181.30M448.13 181.30L449.87 180.30" stroke="#1a1a1a" stroke-width="0.6" fill="none"/>
<path d="M451.80 179.80V181.80M450.93 180.30L452.67 181.30M450.93 181.30L452.67 180.30" stroke="#1a1a1a" stroke-width="0.6" fill="none"/>
<path d="M433.10 198.80V197.90H449.40V198.80" stroke="#1a1a1a" stroke-width="0.65" fill="none"/>
<path d="M440.30 192.80V194.80M439.43 193.30L441.17 194.30M439.43 194.30L441.17 193.30" stroke="#1a1a1a" stroke-width="0.6" fill="none"/>
<path d="M443.10 192.80V194.80M442.23 193.30L443.97 194.30M442.23 194.30L443.97 193.30" stroke="#1a1a1a" stroke-width="0.6" fill="none"/>
<path d="M483.50 166.00V165.10H512.50V166.00" stroke="#1a1a1a" stroke-width="0.65" fill="none"/>
<path d="M496.50 158.80V160.80M495.63 159.30L497.37 160.30M495.63 160.30L497.37 159.30" stroke="#1a1a1a" stroke-width="0.6" fill="none"/>
<path d="M499.30 158.80V160.80M498.43 159.30L500.17 160.30M498.43 160.30L500.17 159.30" stroke="#1a1a1a" stroke-width="0.6" fill="none"/>
<path d="M481.90 177.20V176.30H498.80V177.20" stroke="#1a1a1a" stroke-width="0.65" fill="none"/>
<path d="M488.90 171.00V173.00M488.03 171.50L489.77 172.50M488.03 172.50L489.77 171.50" stroke="#1a1a1a" stroke-width="0.6" fill="none"/>
<path d="M491.70 171.00V173.00M490.83 171.50L492.57 172.50M490.83 172.50L492.57 171.50" stroke="#1a1a1a" stroke-width="0.6" fill="none"/>
<text x="401.80" y="251.30" font-size="6.0" text-anchor="middle">0.4</text>
<text x="450.60" y="251.30" font-size="6.0" text-anchor="middle">0.6</text>
<text x="499.90" y="251.30" font-size="6.0" text-anchor="middle">1.2</text>
<text x="435.30" y="258.10" font-size="6.0" textLength="32.20" lengthAdjust="spacingAndGlyphs">Rhod µg/mL</text>
<text x="440.60" y="267.80" font-size="6.0" textLength="19.40" lengthAdjust="spacingAndGlyphs">Agonist</text>
</g>
<defs><filter id="soft" x="0" y="0" width="520" height="273" filterUnits="userSpaceOnUse"><feGaussianBlur stdDeviation="0.28"/></filter></defs>
</svg>
</body>
</html>
